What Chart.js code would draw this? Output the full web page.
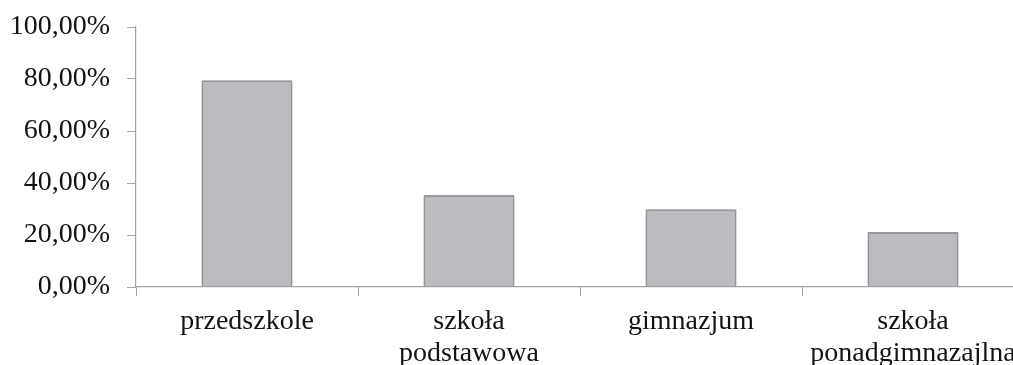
<!DOCTYPE html>
<html lang="pl">
<head>
<meta charset="utf-8">
<script src="https://cdn.jsdelivr.net/npm/chart.js@4.4.1/dist/chart.umd.min.js"></script>
<style>
  html, body { margin: 0; padding: 0; background: #ffffff; overflow: hidden; width: 1013px; height: 365px; }
  #wrap { width: 1040px; height: 365px; }
  canvas { display: block; }
</style>
</head>
<body>
<div id="wrap"><canvas id="chart" width="1040" height="365"></canvas></div>
<script>
// Poziom edukacji i odsetek odpowiedzi
const categories = ['przedszkole', ['szkoła', 'podstawowa'], 'gimnazjum', ['szkoła', 'ponadgimnazajlna']];
const shares = [79.5, 35.35, 29.95, 21.2];
const yTicks = [0, 20, 40, 60, 80, 100];

const axisGray = '#a3a3a6';
const textColor = '#141414';
const serif = "'Liberation Serif', 'Times New Roman', serif";

// soft shadow behind the bars
const barShadow = {
  id: 'barShadow',
  beforeDatasetsDraw(chart) {
    const ctx = chart.ctx;
    ctx.save();
    ctx.shadowColor = 'rgba(0,0,0,0.18)';
    ctx.shadowBlur = 3;
    ctx.shadowOffsetX = 0;
    ctx.shadowOffsetY = 0;
  },
  afterDatasetsDraw(chart) {
    chart.ctx.restore();
  }
};

new Chart(document.getElementById('chart'), {
  type: 'bar',
  data: {
    labels: categories,
    datasets: [{
      data: shares,
      backgroundColor: '#bbbcc0',
      borderColor: '#9e9fa3',
      borderWidth: 2,
      categoryPercentage: 1,
      barPercentage: 0.41
    }]
  },
  options: {
    responsive: false,
    animation: false,
    devicePixelRatio: 1,
    layout: { padding: { top: 27, right: 16, left: 0, bottom: 0 } },
    plugins: { legend: { display: false }, tooltip: { enabled: false } },
    scales: {
      x: {
        offset: true,
        border: { display: true, color: axisGray, width: 1.2 },
        grid: {
          offset: true,
          drawOnChartArea: false,
          drawTicks: true,
          tickLength: 9,
          color: axisGray,
          lineWidth: 1
        },
        ticks: {
          color: textColor,
          padding: 9.5,
          maxRotation: 0,
          autoSkip: false,
          font: { family: serif, size: 28, lineHeight: 1.143 }
        },
        afterFit(scale) { scale.height = 78; }
      },
      y: {
        min: 0,
        max: 100,
        afterBuildTicks(scale) { scale.ticks = yTicks.map(v => ({ value: v })); },
        border: { display: true, color: axisGray, width: 1.2 },
        grid: {
          drawOnChartArea: false,
          drawTicks: true,
          tickLength: 9,
          color: axisGray,
          lineWidth: 1
        },
        ticks: {
          color: textColor,
          padding: 17,
          font: { family: serif, size: 28 },
          callback: v => v.toFixed(2).replace('.', ',') + '%'
        },
        afterFit(scale) {
          scale.width = 136;
          scale.paddingTop = 0;
          scale.paddingBottom = 0;
        }
      }
    }
  },
  plugins: [barShadow]
});
</script>
</body>
</html>
